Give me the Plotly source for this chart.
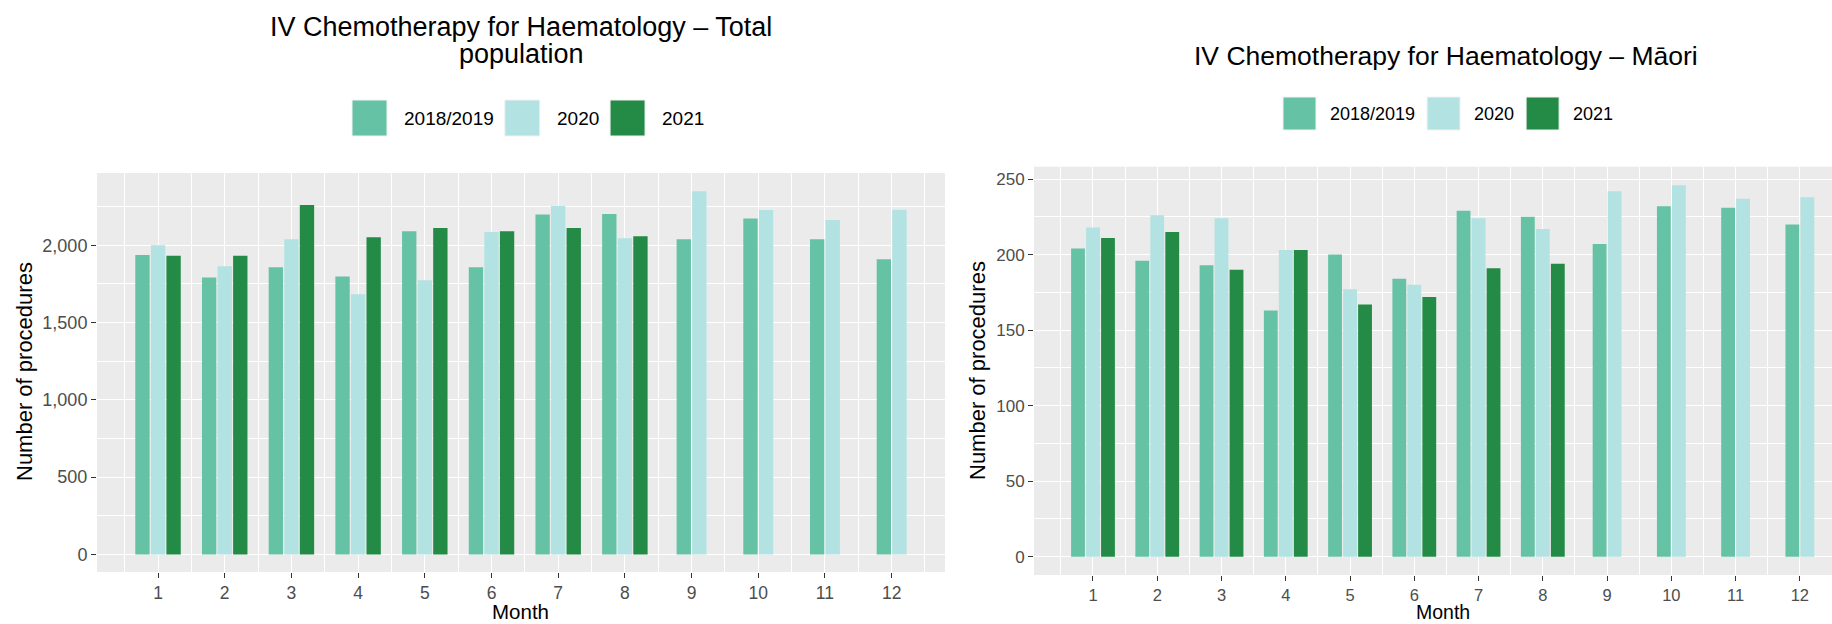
import plotly.graph_objects as go

# ---- data -------------------------------------------------------------
months = list(range(1, 13))
series_names = ["2018/2019", "2020", "2021"]
series_colors = ["#66C2A4", "#B2E2E2", "#238B45"]

total_2018_2019 = [1937, 1791, 1857, 1797, 2090, 1857, 2198, 2202, 2039, 2172, 2039, 1909]
total_2020 = [2000, 1864, 2039, 1683, 1773, 2086, 2254, 2045, 2349, 2228, 2163, 2230]
total_2021 = [1931, 1931, 2260, 2051, 2112, 2090, 2112, 2058, None, None, None, None]

maori_2018_2019 = [204, 196, 193, 163, 200, 184, 229, 225, 207, 232, 231, 220]
maori_2020 = [218, 226, 224, 203, 177, 180, 224, 217, 242, 246, 237, 238]
maori_2021 = [211, 215, 190, 203, 167, 172, 191, 194, None, None, None, None]

total_ticks = [0, 500, 1000, 1500, 2000]
maori_ticks = [0, 50, 100, 150, 200, 250]

# ---- page geometry ----------------------------------------------------
W, H = 1832, 624
FONT = "Liberation Sans, Arial, Helvetica, sans-serif"


def xp(px):
    return px / W


def yp(py):
    return 1 - py / H


# dodge: each month's present series share a 0.7-wide slot, centred on the month
SLOT = 0.7 / 3
BAR_W = 0.215


def dodge_offsets(series_list):
    offsets = [[0.0] * len(months) for _ in series_list]
    for i in range(len(months)):
        present = [s for s, vals in enumerate(series_list) if vals[i] is not None]
        n = len(present)
        for k, s in enumerate(present):
            offsets[s][i] = (k - n / 2) * SLOT + (SLOT - BAR_W) / 2
    return offsets


panels = [
    dict(
        series=[total_2018_2019, total_2020, total_2021],
        xaxis="x", yaxis="y",
        title_lines=["IV Chemotherapy for Haematology \u2013 Total", "population"],
        title_cy=[27, 54], title_cx=521, title_size=27,
        xdomain=[97, 945], ydomain=[173, 572],
        xrange=[0.085, 12.8], yrange=[-114, 2467],
        yticks=total_ticks, ytickformat=",d", tick_size=18, xtick_size=17.5,
        legend_x=352, legend_y=[100, 136], swatch=35, legend_font=19,
        legend_gap=15, legend_sep=13,
        ytitle_x=24, ytitle_y=372, xtitle_x=520, xtitle_size=20.5,
    ),
    dict(
        series=[maori_2018_2019, maori_2020, maori_2021],
        xaxis="x2", yaxis="y2",
        title_lines=["IV Chemotherapy for Haematology \u2013 M\u0101ori"],
        title_cy=[56], title_cx=1446, title_size=26.5,
        xdomain=[1034, 1832], ydomain=[166.7, 575],
        xrange=[0.082, 12.5], yrange=[-12.1, 258.2],
        yticks=maori_ticks, ytickformat="d", tick_size=17, xtick_size=16.5,
        legend_x=1283, legend_y=[97, 130], swatch=33, legend_font=18,
        legend_gap=12, legend_sep=14,
        ytitle_x=977, ytitle_y=371, xtitle_x=1443, xtitle_size=19.5,
    ),
]

fig = go.Figure()
annotations = []
shapes = []

for p in panels:
    offs = dodge_offsets(p["series"])
    for vals, name, color, off in zip(p["series"], series_names, series_colors, offs):
        fig.add_trace(go.Bar(
            x=months, y=vals, name=name,
            offset=off, width=BAR_W,
            marker=dict(color=color, line=dict(width=0)),
            xaxis=p["xaxis"], yaxis=p["yaxis"],
            showlegend=False,
        ))

    # titles
    for line, cy in zip(p["title_lines"], p["title_cy"]):
        annotations.append(dict(
            text=line, xref="paper", yref="paper", x=xp(p["title_cx"]), y=yp(cy),
            xanchor="center", yanchor="middle", showarrow=False,
            font=dict(family=FONT, size=p["title_size"], color="black"),
        ))

    # legend: large filled keys followed by their labels
    x = p["legend_x"]
    y0, y1 = p["legend_y"]
    for name, color in zip(series_names, series_colors):
        shapes.append(dict(
            type="rect", xref="paper", yref="paper",
            x0=xp(x), x1=xp(x + p["swatch"]), y0=yp(y1), y1=yp(y0),
            fillcolor=color, line=dict(color="#F2F2F2", width=1), layer="above",
        ))
        tx = x + p["swatch"] + p["legend_gap"]
        annotations.append(dict(
            text=name, xref="paper", yref="paper", x=xp(tx), y=yp((y0 + y1) / 2 + 0.5),
            xanchor="left", yanchor="middle", showarrow=False,
            font=dict(family=FONT, size=p["legend_font"], color="black"),
        ))
        text_w = sum(0.278 if ch == "/" else 0.556 for ch in name) * p["legend_font"]
        x = tx + text_w + p["legend_sep"]

    # axis titles
    annotations.append(dict(
        text="Number of procedures", xref="paper", yref="paper",
        x=xp(p["ytitle_x"]), y=yp(p["ytitle_y"]), textangle=-90,
        xanchor="center", yanchor="middle", showarrow=False,
        font=dict(family=FONT, size=22, color="black"),
    ))
    annotations.append(dict(
        text="Month", xref="paper", yref="paper",
        x=xp(p["xtitle_x"]), y=0, borderpad=0,
        xanchor="center", yanchor="bottom", showarrow=False,
        font=dict(family=FONT, size=p["xtitle_size"], color="black"),
    ))


def x_axis(p, anchor):
    return dict(
        domain=[xp(p["xdomain"][0]), min(1.0, xp(p["xdomain"][1]))],
        range=p["xrange"], anchor=anchor,
        tickmode="array", tickvals=months, ticktext=[str(m) for m in months],
        ticks="outside", ticklen=5, tickwidth=1.1, tickcolor="#333333",
        tickfont=dict(family=FONT, size=p["xtick_size"], color="#4D4D4D"),
        showgrid=True, gridcolor="white", gridwidth=1.4,
        minor=dict(tickmode="array", tickvals=[m - 0.5 for m in months] + [12.5],
                   showgrid=True, gridcolor="white", gridwidth=0.7, ticks=""),
        zeroline=False, showline=False, fixedrange=True,
    )


def y_axis(p, anchor):
    t = p["yticks"]
    step = t[1] - t[0]
    return dict(
        domain=[yp(p["ydomain"][1]), yp(p["ydomain"][0])],
        range=p["yrange"], anchor=anchor,
        tickmode="array", tickvals=t, tickformat=p["ytickformat"],
        ticks="outside", ticklen=5, tickwidth=1.1, tickcolor="#333333",
        tickfont=dict(family=FONT, size=p["tick_size"], color="#4D4D4D"),
        showgrid=True, gridcolor="white", gridwidth=1.4,
        minor=dict(tickmode="array", tickvals=[v + step / 2 for v in t],
                   showgrid=True, gridcolor="white", gridwidth=0.7, ticks=""),
        zeroline=False, showline=False, fixedrange=True,
    )


fig.update_layout(
    width=W, height=H,
    margin=dict(l=0, r=0, t=0, b=0),
    paper_bgcolor="white", plot_bgcolor="#EBEBEB",
    barmode="overlay",
    xaxis=x_axis(panels[0], "y"), yaxis=y_axis(panels[0], "x"),
    xaxis2=x_axis(panels[1], "y2"), yaxis2=y_axis(panels[1], "x2"),
    annotations=annotations, shapes=shapes,
    showlegend=False,
)

fig.write_html("out.html")
